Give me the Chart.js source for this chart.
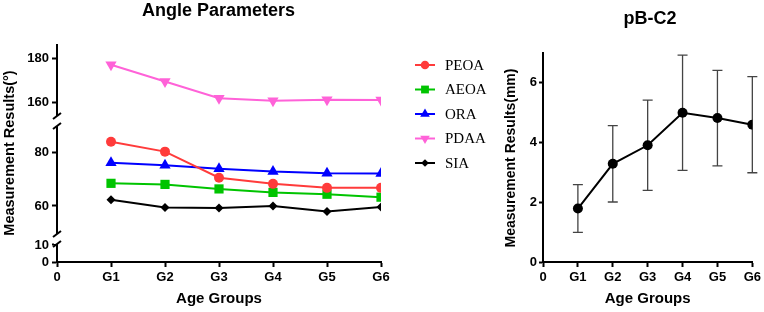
<!DOCTYPE html>
<html>
<head>
<meta charset="utf-8">
<script src="https://cdn.jsdelivr.net/npm/chart.js@4.4.1/dist/chart.umd.min.js"></script>
<style>
    html, body { margin: 0; padding: 0; background: #fff; }
    #wrap { position: relative; width: 764px; height: 312px; }
    #angles { position: absolute; left: 0; top: 0; }
    #pbc2 { position: absolute; left: 490px; top: 0; }
</style>
</head>
<body>
<div id="wrap">
    <canvas id="angles" width="490" height="312"></canvas>
    <canvas id="pbc2" width="274" height="312"></canvas>
</div>
<script>
// Grupos de idade e valores
const groups = ['G1', 'G2', 'G3', 'G4', 'G5', 'G6'];
const peoa = [84.1, 80.4, 70.6, 68.3, 66.8, 66.8];
const aeoa = [68.5, 68.1, 66.4, 65.1, 64.4, 63.3];
const ora  = [76.2, 75.3, 74.0, 72.9, 72.3, 72.2];
const pdaa = [177.0, 169.4, 161.8, 160.7, 161.2, 161.0];
const sia  = [62.3, 59.4, 59.2, 60.0, 57.9, 59.6];

// Ticks dos três trechos do eixo quebrado
const topTicks = [160, 180];
const midTicks = [60, 80];
const lowTicks = [0, 10];

// pB-C2 (média e desvio)
const pbMean = [1.79, 3.29, 3.91, 5.0, 4.82, 4.6];
const pbSd   = [0.8, 1.28, 1.51, 1.93, 1.6, 1.61];
const pbTicks = [0, 2, 4, 6];

Chart.defaults.font.family = '"Liberation Sans", Arial, sans-serif';
Chart.defaults.color = '#000';

const pts = arr => arr.map((v, i) => ({ x: i + 1, y: v }));
const xLabel = v => (v === 0 ? '0' : groups[v - 1]);

const tickFont = { size: 13, weight: 'bold' };
const border = { display: true, color: '#000', width: 2 };
const tickGrid = { display: true, drawOnChartArea: false, drawTicks: true, tickLength: 5, tickWidth: 2, tickColor: '#000', color: '#000' };
const boldFont = size => `bold ${size}px "Liberation Sans", Arial, sans-serif`;

function xAxis(titlePad) {
    return {
        type: 'linear', min: 0, max: 6,
        border, grid: tickGrid,
        ticks: { stepSize: 1, autoSkip: false, maxRotation: 0, padding: 3, font: tickFont, color: '#000', callback: xLabel },
        title: { display: true, text: 'Age Groups', font: { size: 15, weight: 'bold' }, color: '#000', padding: titlePad },
        afterFit: s => { s.height = 50; }
    };
}

function yPart(min, max, ticks, weight) {
    return {
        type: 'linear', position: 'left', stack: 'ang', stackWeight: weight,
        min, max, border, grid: tickGrid,
        ticks: { padding: 3, autoSkip: false, font: tickFont, color: '#000' },
        afterBuildTicks: s => { s.ticks = ticks.map(v => ({ value: v })); },
        afterFit: s => { s.width = 57; }
    };
}

function serie(label, data, color, style, radius, rotation) {
    return {
        label, data: pts(data), yAxisID: label === 'PDAA' ? 'yTop' : 'yMid',
        borderColor: color, backgroundColor: color, pointBackgroundColor: color,
        borderWidth: 2, pointStyle: style, pointRadius: radius, pointRotation: rotation || 0,
        pointBorderWidth: 0, tension: 0
    };
}

// Textos soltos (títulos)
const freeTexts = {
    id: 'freeTexts',
    afterDraw(chart, args, opts) {
        const ctx = chart.ctx;
        (opts.items || []).forEach(t => {
            ctx.save();
            ctx.font = t.font;
            ctx.fillStyle = '#000';
            ctx.textAlign = 'center';
            ctx.textBaseline = 'middle';
            ctx.translate(t.x, t.y);
            if (t.rotate) ctx.rotate(-Math.PI / 2);
            ctx.fillText(t.text, 0, 0);
            ctx.restore();
        });
    }
};

// Marcas de quebra no eixo Y
const breakMarks = {
    id: 'breakMarks',
    afterDraw(chart) {
        const ctx = chart.ctx;
        const x = chart.scales.yMid.right;
        [chart.scales.yTop, chart.scales.yMid].forEach(s => {
            const b = s.bottom;
            ctx.save();
            ctx.fillStyle = '#fff';
            ctx.fillRect(x - 3, b - 5, 6, 10);
            ctx.strokeStyle = '#000';
            ctx.lineWidth = 2;
            [b - 5, b + 5].forEach(c => {
                ctx.beginPath();
                ctx.moveTo(x - 4, c + 3);
                ctx.lineTo(x + 4, c - 3);
                ctx.stroke();
            });
            ctx.restore();
        });
    }
};

// Legenda lateral (linha + marcador + texto)
const sideLegend = {
    id: 'sideLegend',
    afterDraw(chart, args, opts) {
        const ctx = chart.ctx;
        chart.data.datasets.forEach((ds, i) => {
            const y = opts.top + i * opts.step;
            ctx.save();
            ctx.strokeStyle = ds.borderColor;
            ctx.lineWidth = 2;
            ctx.beginPath();
            ctx.moveTo(opts.x, y);
            ctx.lineTo(opts.x + 20, y);
            ctx.stroke();
            ctx.fillStyle = ds.backgroundColor;
            Chart.helpers.drawPoint(ctx, { pointStyle: ds.pointStyle, rotation: ds.pointRotation, radius: ds.pointRadius * 0.85, borderWidth: 0 }, opts.x + 10, y);
            ctx.font = '15px "Liberation Serif", "Times New Roman", serif';
            ctx.fillStyle = '#000';
            ctx.textBaseline = 'middle';
            ctx.fillText(ds.label, opts.x + 30, y + 1);
            ctx.restore();
        });
    }
};

// Barras de erro (desvio padrão)
const errorBars = {
    id: 'errorBars',
    beforeDatasetsDraw(chart, args, opts) {
        const ctx = chart.ctx;
        const xs = chart.scales.x, ys = chart.scales.y;
        ctx.save();
        ctx.strokeStyle = '#444';
        ctx.lineWidth = 1.3;
        opts.mean.forEach((m, i) => {
            const x = xs.getPixelForValue(i + 1);
            const yHi = ys.getPixelForValue(m + opts.sd[i]);
            const yLo = ys.getPixelForValue(m - opts.sd[i]);
            ctx.beginPath();
            ctx.moveTo(x, yHi); ctx.lineTo(x, yLo);
            ctx.moveTo(x - 5, yHi); ctx.lineTo(x + 5, yHi);
            ctx.moveTo(x - 5, yLo); ctx.lineTo(x + 5, yLo);
            ctx.stroke();
        });
        ctx.restore();
    }
};

new Chart(document.getElementById('angles'), {
    type: 'line',
    data: {
        datasets: [
            serie('PEOA', peoa, '#ff3b3b', 'circle', 5),
            serie('AEOA', aeoa, '#00c400', 'rect', 6.5),
            serie('ORA', ora, '#0000ff', 'triangle', 6.5),
            serie('PDAA', pdaa, '#ff62d8', 'triangle', 6.5, 180),
            serie('SIA', sia, '#000000', 'rectRot', 4.5)
        ]
    },
    options: {
        responsive: false,
        animation: false,
        layout: { padding: { top: 45, right: 109, left: 0, bottom: 0 } },
        plugins: {
            legend: { display: false },
            tooltip: { enabled: false },
            sideLegend: { x: 415, top: 65, step: 24.5 },
            freeTexts: {
                items: [
                    { text: 'Angle Parameters', x: 218.5, y: 11, font: boldFont(18) },
                    { text: 'Measurement Results(°)', x: 10, y: 153, rotate: true, font: boldFont(14.5) }
                ]
            }
        },
        scales: {
            x: xAxis({ top: 0, bottom: 4 }),
            // na pilha, o último eixo declarado fica em cima
            yLow: yPart(0, 13.5, lowTicks, 23),
            yMid: yPart(47.6, 91.9, midTicks, 118),
            yTop: yPart(151.5, 186, topTicks, 76)
        }
    },
    plugins: [breakMarks, sideLegend, freeTexts]
});

new Chart(document.getElementById('pbc2'), {
    type: 'line',
    data: {
        datasets: [{
            label: 'pB-C2', data: pts(pbMean),
            borderColor: '#000', backgroundColor: '#000', pointBackgroundColor: '#000',
            borderWidth: 2, pointRadius: 5, pointBorderWidth: 0, tension: 0
        }]
    },
    options: {
        responsive: false,
        animation: false,
        layout: { padding: { top: 53, right: 10, left: 0, bottom: 0 } },
        plugins: {
            legend: { display: false },
            tooltip: { enabled: false },
            errorBars: { mean: pbMean, sd: pbSd },
            freeTexts: {
                items: [
                    { text: 'pB-C2', x: 160, y: 19, font: boldFont(18) },
                    { text: 'Measurement Results(mm)', x: 21, y: 158, rotate: true, font: boldFont(14) }
                ]
            }
        },
        scales: {
            x: xAxis({ top: 0, bottom: 4 }),
            y: {
                type: 'linear', min: 0, max: 7, border,
                grid: Object.assign({}, tickGrid, { tickLength: 4 }),
                ticks: { padding: 2, autoSkip: false, font: tickFont, color: '#000' },
                afterBuildTicks: s => { s.ticks = pbTicks.map(v => ({ value: v })); },
                afterFit: s => { s.width = 53; }
            }
        }
    },
    plugins: [errorBars, freeTexts]
});
</script>
</body>
</html>
